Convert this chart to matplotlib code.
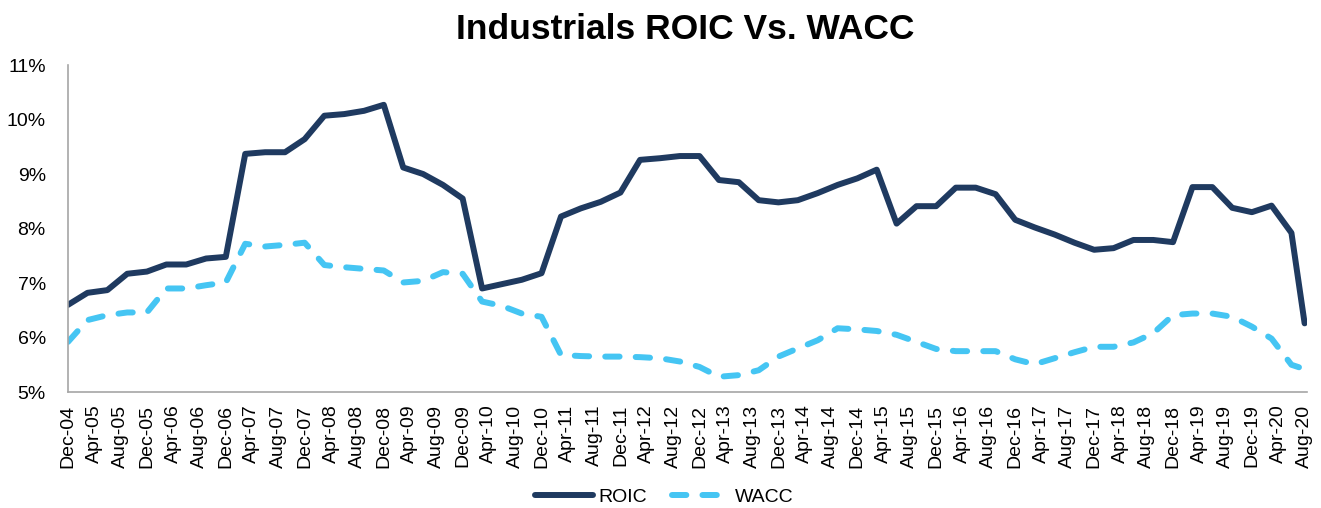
import matplotlib
matplotlib.use("Agg")
import matplotlib.pyplot as plt
import pandas as pd

plt.rcParams['font.family'] = ['Liberation Sans', 'DejaVu Sans']

# quarterly points from Dec-04 to Jun-20, plus the last one at Aug-20
dates = pd.date_range('2004-12-01', '2020-06-01', freq='3MS').append(pd.DatetimeIndex(['2020-08-01']))

roic = [6.60, 6.82, 6.87, 7.17, 7.21, 7.34, 7.34, 7.45, 7.48, 9.37,
        9.40, 9.40, 9.64, 10.07, 10.10, 10.16, 10.27, 9.12, 9.00, 8.80,
        8.55, 6.90, 6.98, 7.06, 7.18, 8.22, 8.37, 8.49, 8.66, 9.26,
        9.29, 9.33, 9.33, 8.89, 8.85, 8.52, 8.48, 8.52, 8.65, 8.80,
        8.92, 9.08, 8.09, 8.41, 8.41, 8.75, 8.75, 8.63, 8.16, 8.02,
        7.89, 7.74, 7.61, 7.64, 7.79, 7.79, 7.75, 8.76, 8.76, 8.38,
        8.30, 8.42, 7.92, 6.26]

wacc = [5.92, 6.32, 6.41, 6.46, 6.46, 6.90, 6.90, 6.96, 7.01, 7.72,
        7.67, 7.70, 7.74, 7.33, 7.29, 7.26, 7.23, 7.01, 7.04, 7.20,
        7.17, 6.66, 6.58, 6.44, 6.38, 5.68, 5.66, 5.65, 5.65, 5.64,
        5.62, 5.56, 5.46, 5.28, 5.31, 5.40, 5.65, 5.80, 5.95, 6.17,
        6.15, 6.12, 6.05, 5.92, 5.79, 5.75, 5.75, 5.75, 5.60, 5.51,
        5.62, 5.73, 5.83, 5.83, 5.91, 6.08, 6.41, 6.44, 6.44, 6.38,
        6.20, 5.98, 5.50, 5.42]

tick_dates = pd.date_range('2004-12-01', '2020-08-01', freq='4MS')
y_ticks = [5, 6, 7, 8, 9, 10, 11]

navy = '#1F3A60'
light_blue = '#45C5F3'

fig = plt.figure(figsize=(13.21, 5.08), dpi=100)
ax = fig.add_axes([0.0515, 0.2283, 0.9379, 0.6437])

ax.plot(dates, roic, color=navy, lw=4.3, solid_joinstyle='round',
        solid_capstyle='round', label='ROIC')
ax.plot(dates, wacc, color=light_blue, lw=4.3, dashes=(2.4, 2.7),
        dash_capstyle='round', dash_joinstyle='round', label='WACC')

ax.set_xlim(tick_dates[0], pd.Timestamp('2020-08-12'))
ax.set_ylim(5, 11)
ax.set_yticks(y_ticks)
ax.set_yticklabels(['%d%%' % v for v in y_ticks])
ax.set_xticks(tick_dates)
ax.set_xticklabels([d.strftime('%b-%y') for d in tick_dates], rotation=90)
ax.tick_params(axis='both', length=0, labelsize=14, colors='black')
ax.tick_params(axis='x', pad=9)
ax.tick_params(axis='y', pad=16)

for side in ['top', 'right']:
    ax.spines[side].set_visible(False)
for side in ['left', 'bottom']:
    ax.spines[side].set_color('#A6A6A6')
    ax.spines[side].set_linewidth(1.2)

fig.suptitle('Industrials ROIC Vs. WACC', x=0.519, y=0.975, fontsize=25.5,
             fontweight='bold')

fig.legend(loc='center', bbox_to_anchor=(0.503, 0.022), ncol=2, frameon=False,
           fontsize=14, handlelength=3.0, handletextpad=0.25, columnspacing=1.3)

fig.savefig('out.png', dpi=100)
